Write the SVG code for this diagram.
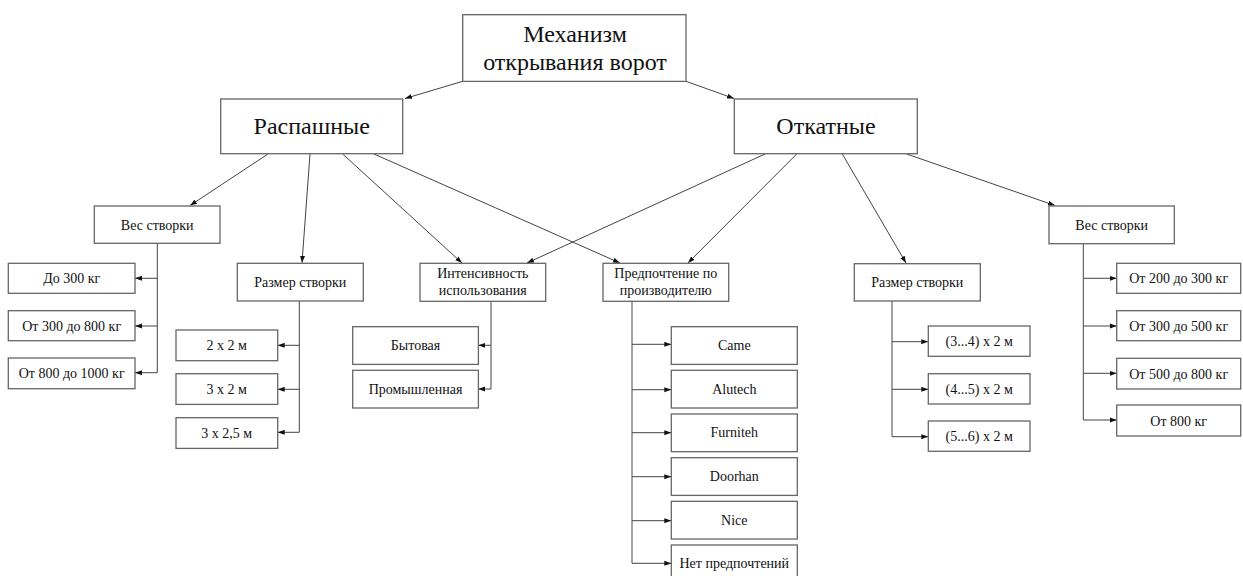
<svg xmlns="http://www.w3.org/2000/svg" width="1243" height="576" viewBox="0 0 1243 576">
<style>
.box{fill:#fff;stroke:#666;stroke-width:1.3}
text{font-family:'Liberation Serif','Times New Roman','DejaVu Serif',serif;fill:#111;text-anchor:middle}
.big{font-size:24px}
.sm{font-size:14px}
.c{fill:none;stroke:#444;stroke-width:1}
</style>
<defs>
<marker id="a" markerUnits="userSpaceOnUse" markerWidth="7" markerHeight="6" refX="7" refY="3" orient="auto">
<path d="M0,0.5 L7,3 L0,5.5 z" fill="#111"/>
</marker>
</defs>
<rect width="1243" height="576" fill="#fff"/>
<g id="connectors">
<g class="c" marker-end="url(#a)">
<line x1="462.7" y1="81.3" x2="405" y2="98.5"/>
<line x1="686" y1="81.3" x2="734" y2="98.5"/>
<line x1="268" y1="154" x2="190" y2="205.5"/>
<line x1="310" y1="154" x2="302" y2="262.8"/>
<line x1="342.7" y1="154" x2="462" y2="263"/>
<line x1="374" y1="154" x2="620" y2="263"/>
<line x1="765" y1="154" x2="527" y2="263"/>
<line x1="796.7" y1="154" x2="688" y2="263"/>
<line x1="842.3" y1="154" x2="906" y2="263"/>
<line x1="906.7" y1="154" x2="1055" y2="205.5"/>
<line x1="157.3" y1="278.3" x2="135" y2="278.3"/>
<line x1="157.3" y1="326" x2="135" y2="326"/>
<line x1="157.3" y1="372.7" x2="135" y2="372.7"/>
<line x1="299.3" y1="345.3" x2="277.7" y2="345.3"/>
<line x1="299.3" y1="389.3" x2="277.7" y2="389.3"/>
<line x1="299.3" y1="432.3" x2="277.7" y2="432.3"/>
<line x1="491" y1="345.3" x2="478.3" y2="345.3"/>
<line x1="491" y1="389" x2="478.3" y2="389"/>
<line x1="632" y1="344.3" x2="671.3" y2="344.3"/>
<line x1="632" y1="389.7" x2="671.3" y2="389.7"/>
<line x1="632" y1="432.7" x2="671.3" y2="432.7"/>
<line x1="632" y1="476.7" x2="671.3" y2="476.7"/>
<line x1="632" y1="520.7" x2="671.3" y2="520.7"/>
<line x1="632" y1="563.3" x2="671.3" y2="563.3"/>
<line x1="892" y1="341.7" x2="928.3" y2="341.7"/>
<line x1="892" y1="389.3" x2="928.3" y2="389.3"/>
<line x1="892" y1="436.7" x2="928.3" y2="436.7"/>
<line x1="1083.3" y1="278.3" x2="1116.7" y2="278.3"/>
<line x1="1083.3" y1="326" x2="1116.7" y2="326"/>
<line x1="1083.3" y1="373.3" x2="1116.7" y2="373.3"/>
<line x1="1083.3" y1="420" x2="1116.7" y2="420"/>
</g>
<g class="c">
<path d="M157.3 243.3 V372.7"/>
<path d="M299.3 301 V432.3"/>
<path d="M491 301.3 V389"/>
<path d="M632 301.3 V563.3"/>
<path d="M892 301 V436.7"/>
<path d="M1083.3 243.7 V420"/>
</g>
</g>
<g id="root"><rect class="box" x="462.7" y="14.7" width="223.3" height="66.7"/><text class="big" x="575" y="42" font-family="Liberation Serif, serif">Механизм</text><text class="big" x="575" y="70" font-family="Liberation Serif, serif">открывания ворот</text></g>
<g id="rasp"><rect class="box" x="220.7" y="99" width="182" height="54.7"/><text class="big" x="311.7" y="134.3">Распашные</text></g>
<g id="otk"><rect class="box" x="734.3" y="99" width="183" height="54.7"/><text class="big" x="826" y="134.3">Откатные</text></g>
<g id="wL"><rect class="box" x="94.3" y="206" width="125.7" height="37.3"/><text class="sm" x="157.2" y="229.5">Вес створки</text></g>
<g id="sL"><rect class="box" x="237.3" y="263.3" width="126" height="37.7"/><text class="sm" x="300.3" y="287">Размер створки</text></g>
<g id="int"><rect class="box" x="420" y="263.3" width="125.7" height="38"/><text class="sm" x="482.8" y="277.5">Интенсивность</text><text class="sm" x="482.8" y="295">использования</text></g>
<g id="pref"><rect class="box" x="603" y="263.3" width="125.7" height="38"/><text class="sm" x="665.8" y="277.5">Предпочтение по</text><text class="sm" x="665.8" y="295">производителю</text></g>
<g id="sR"><rect class="box" x="854.3" y="263.7" width="126" height="37.3"/><text class="sm" x="917.3" y="287">Размер створки</text></g>
<g id="wR"><rect class="box" x="1049" y="206" width="125.3" height="37.7"/><text class="sm" x="1111.7" y="229.5">Вес створки</text></g>
<g id="wL1"><rect class="box" x="8.3" y="263.3" width="126.7" height="30"/><text class="sm" x="71.7" y="283.3">До 300 кг</text></g>
<g id="wL2"><rect class="box" x="8.3" y="310.7" width="126.7" height="30"/><text class="sm" x="71.7" y="330.7">От 300 до 800 кг</text></g>
<g id="wL3"><rect class="box" x="8.3" y="358" width="126.7" height="30.7"/><text class="sm" x="71.7" y="378.3">От 800 до 1000 кг</text></g>
<g id="sL1"><rect class="box" x="176" y="330" width="101.7" height="30.7"/><text class="sm" x="226.8" y="350.3">2 х 2 м</text></g>
<g id="sL2"><rect class="box" x="176" y="373.7" width="101.7" height="30.7"/><text class="sm" x="226.8" y="394">3 х 2 м</text></g>
<g id="sL3"><rect class="box" x="176" y="417.7" width="101.7" height="30.7"/><text class="sm" x="226.8" y="438">3 х 2,5 м</text></g>
<g id="int1"><rect class="box" x="352.7" y="326.7" width="125.7" height="37.7"/><text class="sm" x="415.5" y="350">Бытовая</text></g>
<g id="int2"><rect class="box" x="352.7" y="370.3" width="125.7" height="37.7"/><text class="sm" x="415.5" y="393.7">Промышленная</text></g>
<g id="p1"><rect class="box" x="671.3" y="326.7" width="126" height="37.7"/><text class="sm" x="734.3" y="350">Came</text></g>
<g id="p2"><rect class="box" x="671.3" y="370.3" width="126" height="37.7"/><text class="sm" x="734.3" y="393.7">Alutech</text></g>
<g id="p3"><rect class="box" x="671.3" y="414" width="126" height="37.7"/><text class="sm" x="734.3" y="437.3">Furniteh</text></g>
<g id="p4"><rect class="box" x="671.3" y="457.7" width="126" height="37.7"/><text class="sm" x="734.3" y="481">Doorhan</text></g>
<g id="p5"><rect class="box" x="671.3" y="501.3" width="126" height="37.7"/><text class="sm" x="734.3" y="524.7">Nice</text></g>
<g id="p6"><rect class="box" x="671.3" y="545" width="126" height="37.7"/><text class="sm" x="734.3" y="568.3">Нет предпочтений</text></g>
<g id="sR1"><rect class="box" x="928.3" y="326" width="101.7" height="30.3"/><text class="sm" x="979.2" y="346.2">(3...4) х 2 м</text></g>
<g id="sR2"><rect class="box" x="928.3" y="373.7" width="101.7" height="30.3"/><text class="sm" x="979.2" y="393.9">(4...5) х 2 м</text></g>
<g id="sR3"><rect class="box" x="928.3" y="421" width="101.7" height="30.3"/><text class="sm" x="979.2" y="441.2">(5...6) х 2 м</text></g>
<g id="wR1"><rect class="box" x="1116.7" y="263.3" width="124" height="30"/><text class="sm" x="1178.7" y="283.3">От 200 до 300 кг</text></g>
<g id="wR2"><rect class="box" x="1116.7" y="310.7" width="124" height="30"/><text class="sm" x="1178.7" y="330.7">От 300 до 500 кг</text></g>
<g id="wR3"><rect class="box" x="1116.7" y="358.3" width="124" height="30.7"/><text class="sm" x="1178.7" y="378.6">От 500 до 800 кг</text></g>
<g id="wR4"><rect class="box" x="1116.7" y="405" width="124" height="31"/><text class="sm" x="1178.7" y="425.5">От 800 кг</text></g>
</svg>
